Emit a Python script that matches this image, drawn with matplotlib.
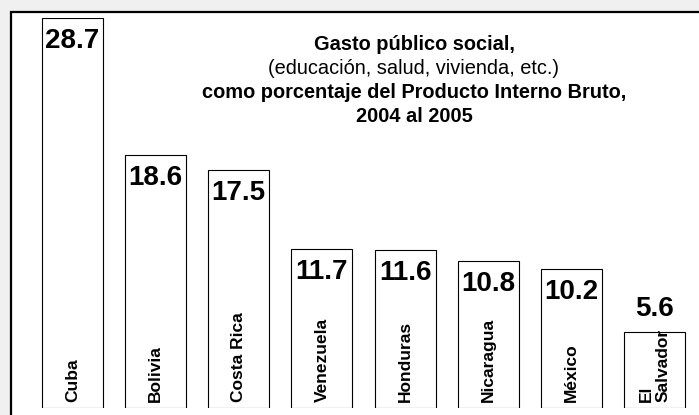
import matplotlib.pyplot as plt
from matplotlib.patches import Rectangle
import numpy as np

plt.rcParams['font.family'] = ['Liberation Sans', 'DejaVu Sans']

paises = ["Cuba", "Bolivia", "Costa Rica", "Venezuela", "Honduras",
          "Nicaragua", "México", "El\nSalvador"]
gasto = [28.7, 18.6, 17.5, 11.7, 11.6, 10.8, 10.2, 5.6]

W, H = 699, 415
fig = plt.figure(figsize=(W / 100, H / 100), dpi=100)
fig.patch.set_facecolor('#f0f0f0')

# white panel with black frame, running off the right/bottom edges
fig.patches.append(Rectangle((11 / W, -0.05), 1.0, (H - 12) / H + 0.05,
                             transform=fig.transFigure, facecolor='white',
                             edgecolor='black', linewidth=1.6, zorder=-5))

pitch = 83.14
left = 72.5 - 0.5 * pitch
ax = fig.add_axes([left / W, 7 / H, 8 * pitch / W, 390 / H])
ax.set_zorder(2)
ax.set_facecolor('none')
ax.set_axis_off()

x = np.arange(len(paises))
bars = ax.bar(x, gasto, width=0.735, color='white', edgecolor='black',
              linewidth=0.8)
ax.set_xlim(-0.5, 7.5)
ax.set_ylim(0, max(gasto))

for xi, v, nombre in zip(x, gasto, paises):
    if v > 8:
        ax.annotate(f"{v:.1f}", (xi, v), xytext=(0, -7), textcoords='offset points',
                    ha='center', va='top', fontsize=20, fontweight='bold')
    else:
        ax.annotate(f"{v:.1f}", (xi, v), xytext=(0, 7), textcoords='offset points',
                    ha='center', va='bottom', fontsize=20, fontweight='bold')
    ax.annotate(nombre, (xi, 0), xytext=(0, 4), textcoords='offset points',
                ha='center', va='bottom', rotation=90, fontsize=12.5,
                fontweight='bold', multialignment='left', linespacing=1.1)

tx = 414 / W
fs = 14.4
fig.text(tx, 1 - 45 / H, "Gasto público social,", ha='center', va='center',
         fontsize=fs, fontweight='bold')
fig.text(tx, 1 - 68 / H, "(educación, salud, vivienda, etc.)", ha='center',
         va='center', fontsize=fs)
fig.text(tx, 1 - 93 / H, "como porcentaje del Producto Interno Bruto,",
         ha='center', va='center', fontsize=fs, fontweight='bold')
fig.text(tx, 1 - 116 / H, "2004 al 2005", ha='center', va='center',
         fontsize=fs, fontweight='bold')

fig.savefig('out.png', dpi=100, facecolor=fig.get_facecolor())
